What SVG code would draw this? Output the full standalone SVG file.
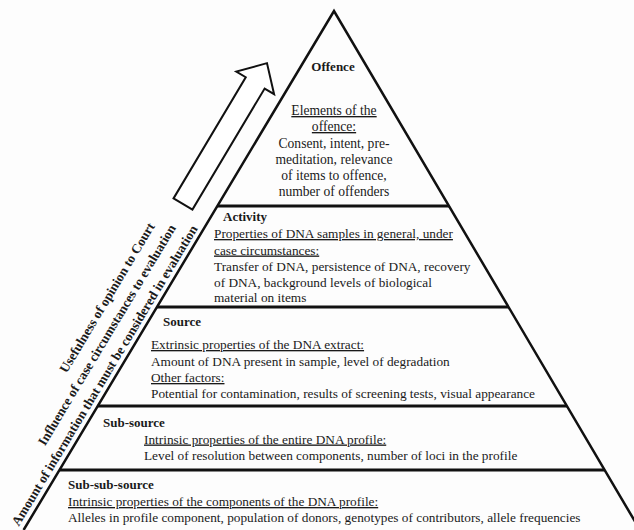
<svg xmlns="http://www.w3.org/2000/svg" width="634" height="530" viewBox="0 0 634 530">
<style>
.bg{fill:#fdfdfd}
.edge{fill:none;stroke:#111;stroke-width:2.5;stroke-linejoin:miter}
.sep{stroke:#111;stroke-width:3}
.arrow{fill:#fff;stroke:#111;stroke-width:2;stroke-linejoin:miter}
.h{font-size:13px;font-weight:bold}
.t{font-size:13.3px}
.to{font-size:13.6px}
.u{text-decoration:underline}
.ax{font-size:13.3px;font-weight:bold;text-anchor:middle}
.c{text-anchor:middle}
</style>
<rect class="bg" x="0" y="0" width="634" height="530"/>
<g id="connectors">
  <path class="edge" d="M23.6,530 L334,11 L640,530"/>
  <line class="sep" x1="217.4" y1="206" x2="449" y2="206"/>
  <line class="sep" x1="157" y1="307" x2="508.6" y2="307"/>
  <line class="sep" x1="97.8" y1="406" x2="567" y2="406"/>
  <line class="sep" x1="59.5" y1="470" x2="604.8" y2="470"/>
</g>
<g id="arrow" transform="translate(183,204) rotate(30.8)">
  <polygon class="arrow" points="-11,0 -11,-141 -22,-141 0,-164 22,-141 11,-141 11,0"/>
</g>
<g font-family="'Liberation Serif', Tinos, 'Times New Roman', Times, 'DejaVu Serif', serif" fill="#1a1a1a">
<g id="axis-labels" transform="rotate(-59)">
  <text class="ax" x="-200" y="249.5">Usefulness of opinion to Court</text>
  <text class="ax" x="-232" y="268.5">Influence of case circumstances to evaluation</text>
  <text class="ax" x="-268" y="287.5">Amount of information that must be considered in evaluation</text>
</g>
<g id="offence">
  <text class="h c" x="333" y="71">Offence</text>
  <text class="to c u" x="334" y="115">Elements of the</text>
  <text class="to c u" x="334" y="131">offence:</text>
  <text class="to c" x="334" y="148">Consent, intent, pre-</text>
  <text class="to c" x="334" y="164">meditation, relevance</text>
  <text class="to c" x="334" y="180">of items to offence,</text>
  <text class="to c" x="334" y="196">number of offenders</text>
</g>
<g id="activity">
  <text class="h" x="223" y="221">Activity</text>
  <text class="t u" x="214" y="238">Properties of DNA samples in general, under</text>
  <text class="t u" x="214" y="254.5">case circumstances:</text>
  <text class="t" x="214" y="270.5">Transfer of DNA, persistence of DNA, recovery</text>
  <text class="t" x="214" y="286.5">of DNA, background levels of biological</text>
  <text class="t" x="214" y="302">material on items</text>
</g>
<g id="source">
  <text class="h" x="163" y="326">Source</text>
  <text class="t u" x="151" y="349">Extrinsic properties of the DNA extract:</text>
  <text class="t" x="151" y="365.5">Amount of DNA present in sample, level of degradation</text>
  <text class="t u" x="151" y="382">Other factors:</text>
  <text class="t" x="151" y="398">Potential for contamination, results of screening tests, visual appearance</text>
</g>
<g id="sub-source">
  <text class="h" x="103" y="427">Sub-source</text>
  <text class="t u" x="144" y="443.5">Intrinsic properties of the entire DNA profile:</text>
  <text class="t" x="144" y="459.5">Level of resolution between components, number of loci in the profile</text>
</g>
<g id="sub-sub-source">
  <text class="h" x="68" y="489">Sub-sub-source</text>
  <text class="t u" x="68" y="506">Intrinsic properties of the components of the DNA profile:</text>
  <text class="t" x="68" y="521.5">Alleles in profile component, population of donors, genotypes of contributors, allele frequencies</text>
</g>
</g>
</svg>
